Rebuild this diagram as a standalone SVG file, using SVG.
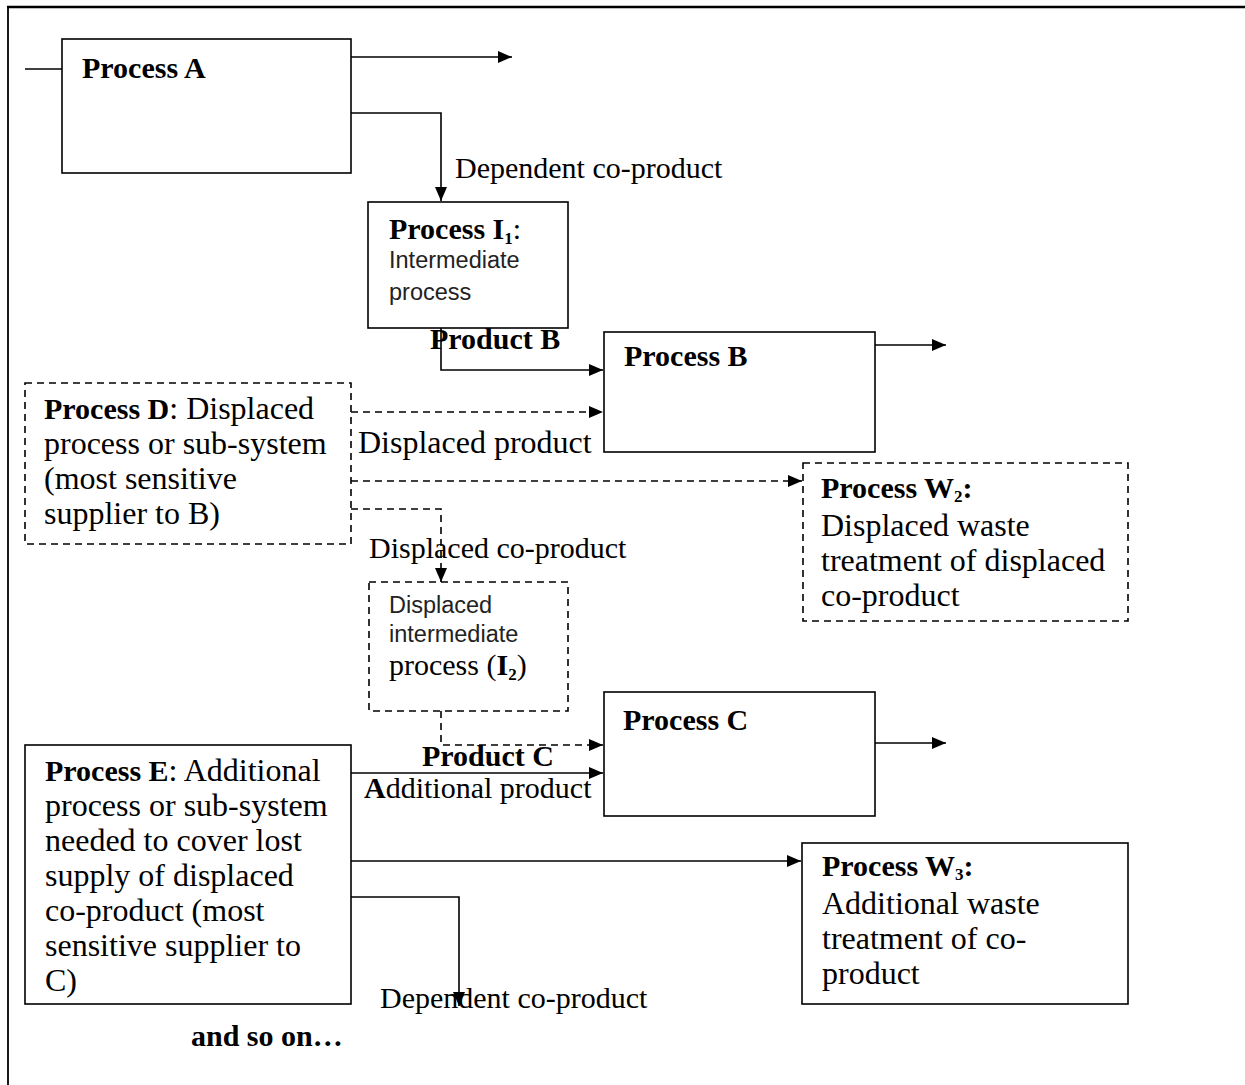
<svg xmlns="http://www.w3.org/2000/svg" width="1245" height="1085" viewBox="0 0 1245 1085">
  <defs>
    <marker id="arrow" markerUnits="userSpaceOnUse" markerWidth="14" markerHeight="12" refX="14" refY="6" orient="auto">
      <path d="M0,0 L14,6 L0,12 z" fill="#000"/>
    </marker>
    <style>
      .frame { fill: none; stroke: #000; }
      .box { fill: #fff; stroke: #000; stroke-width: 1.6; }
      .dbox { fill: #fff; stroke: #000; stroke-width: 1.6; stroke-dasharray: 7 5; }
      .line { fill: none; stroke: #000; stroke-width: 1.6; }
      .dline { fill: none; stroke: #000; stroke-width: 1.6; stroke-dasharray: 7 5; }
      .arr { marker-end: url(#arrow); }
      text { font-family: "Liberation Serif", "Times New Roman", serif; font-size: 30px; fill: #000; }
      .bt { font-size: 32px; }
      .b { font-weight: bold; font-size: 30px; }
      .sans { font-family: "Liberation Sans", Arial, sans-serif; font-size: 23.5px; fill: #222; }
      .sub { font-size: 17px; font-weight: bold; }
    </style>
  </defs>

  <!-- outer frame: top rule and left rule -->
  <g id="frame">
    <line class="frame" x1="7" y1="7" x2="1245" y2="7" stroke-width="2.6"/>
    <line class="frame" x1="8" y1="7" x2="8" y2="1085" stroke-width="1.8"/>
  </g>

  <!-- connectors -->
  <g id="connectors">
    <path class="line" d="M25,69 H62"/>
    <path class="line arr" d="M351,57 H512"/>
    <path class="line arr" d="M351,113 H441 V201"/>
    <path class="line arr" d="M441,328 V370 H603"/>
    <path class="line arr" d="M875,345 H946"/>
    <path class="dline arr" d="M351,412 H603"/>
    <path class="dline arr" d="M351,481 H802"/>
    <path class="dline arr" d="M351,509 H441 V582"/>
    <path class="dline arr" d="M441,711 V745 H603"/>
    <path class="line arr" d="M351,773 H603"/>
    <path class="line arr" d="M875,743 H946"/>
    <path class="line arr" d="M351,861 H801"/>
    <path class="line arr" d="M351,897 H459 V1006"/>
  </g>

  <!-- connector labels -->
  <g id="labels">
    <text x="455" y="178">Dependent co-product</text>
    <text class="b" x="430" y="349">Product B</text>
    <text class="bt" x="358" y="453">Displaced product</text>
    <text x="369" y="558">Displaced co-product</text>
    <text class="b" x="422" y="766">Product C</text>
    <text x="364" y="798"><tspan class="b">A</tspan>dditional product</text>
    <text x="380" y="1008">Dependent co-product</text>
    <text class="b" x="191" y="1046">and so on…</text>
  </g>

  <g id="process-a">
    <rect class="box" x="62" y="39" width="289" height="134"/>
    <text class="b" x="82" y="78">Process A</text>
  </g>

  <g id="process-i1">
    <rect class="box" x="368" y="202" width="200" height="126"/>
    <text x="389" y="239"><tspan class="b">Process I</tspan><tspan class="sub" dy="5">1</tspan><tspan dy="-5">:</tspan></text>
    <text class="sans" x="389" y="268">Intermediate</text>
    <text class="sans" x="389" y="300">process</text>
  </g>

  <g id="process-b">
    <rect class="box" x="604" y="332" width="271" height="120"/>
    <text class="b" x="624" y="366">Process B</text>
  </g>

  <g id="process-d">
    <rect class="dbox" x="25" y="383" width="326" height="161"/>
    <text class="bt" x="44" y="419"><tspan class="b">Process D</tspan>: Displaced</text>
    <text class="bt" x="44" y="454">process or sub-system</text>
    <text class="bt" x="44" y="489">(most sensitive</text>
    <text class="bt" x="44" y="524">supplier to B)</text>
  </g>

  <g id="process-w2">
    <rect class="dbox" x="803" y="463" width="325" height="158"/>
    <text x="821" y="498"><tspan class="b">Process W</tspan><tspan class="sub" dy="4">2</tspan><tspan class="b" dy="-4">:</tspan></text>
    <text class="bt" x="821" y="536">Displaced waste</text>
    <text class="bt" x="821" y="571">treatment of displaced</text>
    <text class="bt" x="821" y="606">co-product</text>
  </g>

  <g id="process-i2">
    <rect class="dbox" x="369" y="582" width="199" height="129"/>
    <text class="sans" x="389" y="613">Displaced</text>
    <text class="sans" x="389" y="642">intermediate</text>
    <text x="389" y="675" font-size="31">process (<tspan class="b">I</tspan><tspan class="sub" dy="5">2</tspan><tspan dy="-5">)</tspan></text>
  </g>

  <g id="process-c">
    <rect class="box" x="604" y="692" width="271" height="124"/>
    <text class="b" x="623" y="730">Process C</text>
  </g>

  <g id="process-e">
    <rect class="box" x="25" y="745" width="326" height="259"/>
    <text class="bt" x="45" y="781"><tspan class="b">Process E</tspan>: Additional</text>
    <text class="bt" x="45" y="816">process or sub-system</text>
    <text class="bt" x="45" y="851">needed to cover lost</text>
    <text class="bt" x="45" y="886">supply of displaced</text>
    <text class="bt" x="45" y="921">co-product (most</text>
    <text class="bt" x="45" y="956">sensitive supplier to</text>
    <text class="bt" x="45" y="991">C)</text>
  </g>

  <g id="process-w3">
    <rect class="box" x="802" y="843" width="326" height="161"/>
    <text x="822" y="876"><tspan class="b">Process W</tspan><tspan class="sub" dy="4">3</tspan><tspan class="b" dy="-4">:</tspan></text>
    <text class="bt" x="822" y="914">Additional waste</text>
    <text class="bt" x="822" y="949">treatment of co-</text>
    <text class="bt" x="822" y="984">product</text>
  </g>
</svg>
